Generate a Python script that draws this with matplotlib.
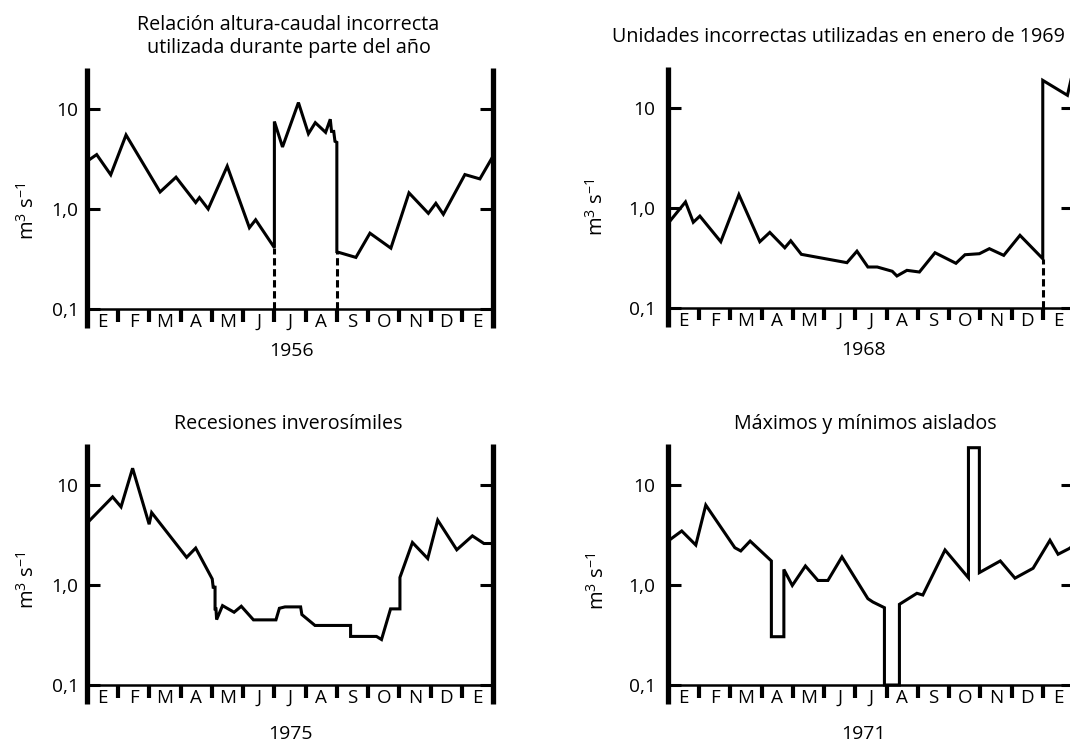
import numpy as np
import matplotlib
matplotlib.use("Agg")
import matplotlib.pyplot as plt
from matplotlib.ticker import NullLocator, FixedLocator, FixedFormatter

plt.rcParams['font.family'] = ['Open Sans', 'DejaVu Sans']
plt.rcParams['mathtext.fontset'] = 'custom'
plt.rcParams['mathtext.rm'] = 'Open Sans'
plt.rcParams['mathtext.it'] = 'Open Sans:italic'
plt.rcParams['mathtext.bf'] = 'Open Sans:bold'

# ---------------- data ----------------
month_labels = ['E', 'F', 'M', 'A', 'M', 'J', 'J', 'A', 'S', 'O', 'N', 'D', 'E']
ytick_vals = [0.1, 1.0, 10.0]
ytick_labels = ['0,1', '1,0', '10']

# Panel 1: 1956
p1_title = 'Relación altura-caudal incorrecta\nutilizada durante parte del año'
p1_year = '1956'
p1_month = [0.0, 0.31, 0.76, 1.25, 2.34, 2.85, 3.48, 3.60, 3.88, 4.49,
            5.20, 5.40, 6.0, 6.0, 6.26, 6.77, 7.09, 7.31, 7.64, 7.79,
            7.83, 7.90, 7.94, 8.0, 8.0, 8.61, 9.06, 9.73, 10.31, 10.93,
            11.17, 11.41, 12.10, 12.58, 13.0]
p1_flow = [3.0, 3.5, 2.2, 5.5, 1.48, 2.08, 1.16, 1.30, 1.0, 2.68,
           0.65, 0.78, 0.41, 7.5, 4.17, 11.6, 5.66, 7.3, 5.84, 7.9,
           5.97, 5.97, 4.75, 4.64, 0.373, 0.328, 0.573, 0.406, 1.45, 0.905,
           1.14, 0.885, 2.21, 2.0, 3.37]
p1_gap_month = [6.0, 8.0]
p1_gap_flow = [0.41, 0.373]

# Panel 2: 1968
p2_title = 'Unidades incorrectas utilizadas en enero de 1969'
p2_year = '1968'
p2_month = [0.0, 0.56, 0.81, 1.02, 1.69, 2.27, 2.94, 3.26, 3.74, 3.93,
            4.27, 5.73, 6.05, 6.40, 6.70, 7.18, 7.33, 7.65, 8.05, 8.55,
            9.22, 9.51, 9.97, 10.29, 10.75, 11.27, 12.0, 12.0, 12.79, 13.0]
p2_flow = [0.70, 1.15, 0.72, 0.83, 0.46, 1.36, 0.46, 0.57, 0.40, 0.47,
           0.344, 0.284, 0.37, 0.257, 0.257, 0.233, 0.209, 0.238, 0.229, 0.357,
           0.28, 0.341, 0.349, 0.392, 0.336, 0.533, 0.311, 18.9, 13.4, 26.0]
p2_gap_month = [12.0]
p2_gap_flow = [0.311]

# Panel 3: 1975
p3_title = 'Recesiones inverosímiles'
p3_year = '1975'
p3_month = [0.0, 0.82, 1.09, 1.46, 1.99, 2.07, 3.19, 3.48, 4.01, 4.04,
            4.10, 4.10, 4.13, 4.15, 4.34, 4.71, 4.94, 5.33, 6.05, 6.16,
            6.34, 6.84, 6.88, 7.30, 8.44, 8.44, 9.27, 9.43, 9.72, 10.02,
            10.02, 10.42, 10.91, 11.23, 11.84, 12.34, 12.71, 13.0]
p3_flow = [4.15, 7.6, 6.04, 14.7, 4.05, 5.3, 1.89, 2.34, 1.15, 0.95,
           0.95, 0.577, 0.577, 0.451, 0.622, 0.534, 0.613, 0.448, 0.448, 0.585,
           0.604, 0.604, 0.506, 0.394, 0.394, 0.306, 0.306, 0.285, 0.577, 0.577,
           1.19, 2.66, 1.84, 4.45, 2.25, 3.1, 2.6, 2.6]

# Panel 4: 1971
p4_title = 'Máximos y mínimos aislados'
p4_year = '1971'
p4_month = [0.0, 0.44, 0.89, 1.21, 2.14, 2.33, 2.63, 3.31, 3.31, 3.71,
            3.71, 3.98, 4.40, 4.80, 5.12, 5.57, 6.40, 6.56, 6.93, 6.93,
            7.41, 7.41, 7.97, 8.16, 8.87, 9.62, 9.62, 9.97, 9.97, 10.64,
            11.11, 11.69, 12.23, 12.49, 12.84, 13.0]
p4_flow = [2.75, 3.47, 2.51, 6.3, 2.36, 2.19, 2.75, 1.74, 0.304, 0.304,
           1.43, 0.99, 1.55, 1.11, 1.11, 1.91, 0.73, 0.676, 0.593, 0.1,
           0.1, 0.641, 0.826, 0.794, 2.24, 1.18, 23.6, 23.6, 1.33, 1.74,
           1.17, 1.47, 2.8, 2.03, 2.31, 2.5]

# ---------------- layout ----------------
W, H = 1070, 744
fig = plt.figure(figsize=(W / 100, H / 100), dpi=100)
fig.patch.set_facecolor('white')

YMIN, YMAX = 10 ** -1.19, 10 ** 1.41
FS = 13.5
FS_TITLE = 14.2
LW_DATA = 2.2


def make_panel(left, top, months, flows, title, year, gaps=None,
               title_x=6.5, title_y=1.058, title_ha='center',
               year_x=6.5, year_y=-0.088, ylab_x=-0.145, ylab_y=0.46,
               tick_pad=6):
    w, h = 406, 260
    ax = fig.add_axes([left / W, 1 - (top + h) / H, w / W, h / H])
    ax.set_yscale('log')
    ax.set_xlim(0, 13)
    ax.set_ylim(YMIN, YMAX)
    ax.set_facecolor('none')
    for s in ['top', 'bottom']:
        ax.spines[s].set_visible(False)
    for s in ['left', 'right']:
        ax.spines[s].set_linewidth(3.8)
        ax.spines[s].set_capstyle('butt')
    ax.set_xticks([])
    ax.yaxis.set_major_locator(FixedLocator(ytick_vals))
    ax.yaxis.set_major_formatter(FixedFormatter(ytick_labels))
    ax.yaxis.set_minor_locator(NullLocator())
    ax.tick_params(axis='y', which='major', direction='in', length=9.5,
                   width=2.2, left=True, right=True, labelsize=FS + 0.3,
                   pad=tick_pad)

    # base line at 0.1
    ax.axhline(0.1, color='black', lw=1.8, zorder=2)
    # month boundary marks
    ax.vlines(np.arange(1, 13), 10 ** -1.125, 0.1, colors='black', lw=3.0,
              zorder=2)
    for i, lab in enumerate(month_labels):
        ax.text(i + 0.5, YMIN * 1.03, lab, ha='center', va='baseline',
                fontsize=FS)

    ax.plot(months, flows, color='black', lw=LW_DATA,
            solid_joinstyle='miter', zorder=3)
    if gaps is not None:
        for gx, gy in zip(*gaps):
            ax.plot([gx, gx], [0.1, gy], color='black', lw=LW_DATA,
                    ls=(0, (2.4, 1.2)), zorder=3)

    ax.text(title_x, title_y, title, transform=ax.get_xaxis_transform(),
            ha=title_ha, va='baseline', fontsize=FS_TITLE, linespacing=1.18,
            clip_on=False)
    ax.text(year_x, year_y, year, transform=ax.get_xaxis_transform(),
            ha='center', va='center', fontsize=FS + 0.5, clip_on=False)
    ax.text(ylab_x, ylab_y, r'm$^{3}$ s$^{-1}$', transform=ax.transAxes,
            rotation=90, ha='center', va='center', fontsize=FS + 1)
    return ax


make_panel(87, 68, p1_month, p1_flow, p1_title, p1_year,
           gaps=(p1_gap_month, p1_gap_flow), title_x=6.45, title_y=1.058,
           year_x=6.55, year_y=-0.088, ylab_x=-0.145, ylab_y=0.45)
make_panel(668, 67, p2_month, p2_flow, p2_title, p2_year,
           gaps=(p2_gap_month, p2_gap_flow), title_x=-1.79, title_y=1.096,
           title_ha='left',
           year_x=6.25, year_y=-0.088, ylab_x=-0.175, ylab_y=0.46,
           tick_pad=9)
make_panel(87, 444, p3_month, p3_flow, p3_title, p3_year,
           title_x=6.45, title_y=1.059,
           year_x=6.5, year_y=-0.114, ylab_x=-0.145, ylab_y=0.477)
make_panel(668, 444, p4_month, p4_flow, p4_title, p4_year,
           title_x=6.33, title_y=1.059,
           year_x=6.25, year_y=-0.114, ylab_x=-0.172, ylab_y=0.473,
           tick_pad=9)

fig.savefig('out.png', dpi=100, facecolor='white')
